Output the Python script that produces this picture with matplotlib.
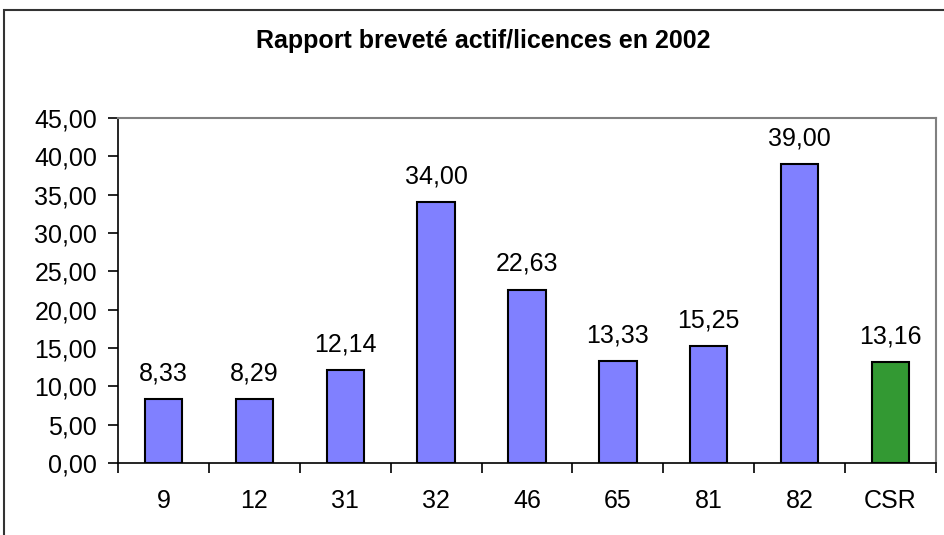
import numpy as np
import matplotlib.pyplot as plt
from matplotlib.patches import Rectangle

# Chart data
categories = ['9', '12', '31', '32', '46', '65', '81', '82', 'CSR']
values = [8.33, 8.29, 12.14, 34.00, 22.63, 13.33, 15.25, 39.00, 13.16]
colors = ['#8080FF'] * 8 + ['#339933']
y_ticks = [0, 5, 10, 15, 20, 25, 30, 35, 40, 45]

plt.rcParams['font.family'] = ['Liberation Sans', 'DejaVu Sans']

fig = plt.figure(figsize=(9.45, 5.35), dpi=100)
ax = fig.add_axes([118 / 945, 72 / 535, 818 / 945, 345 / 535])

# outer chart frame (cut off at right/bottom like the reference)
fig.patches.append(Rectangle((4 / 945, -0.1), 1.2, 1.1 - 10 / 535,
                             transform=fig.transFigure, fill=False,
                             edgecolor='#333333', linewidth=1.5))

x = np.arange(len(categories))
bars = ax.bar(x, values, width=0.41, color=colors, edgecolor='black', linewidth=1.5)

for xi, v in zip(x, values):
    ax.text(xi, v + 2.45, f'{v:.2f}'.replace('.', ','), ha='center', va='baseline', fontsize=18)

ax.set_xlim(-0.5, len(categories) - 0.5)
ax.set_ylim(0, 45)
ax.set_yticks(y_ticks)
ax.set_yticklabels([f'{t:.2f}'.replace('.', ',') for t in y_ticks], fontsize=18)

# category labels centred, ticks between categories
ax.set_xticks(x)
ax.set_xticklabels(categories, fontsize=18)
ax.tick_params(axis='x', length=0, pad=19)
ax.set_xticks(np.arange(-0.5, len(categories)), minor=True)
ax.tick_params(axis='x', which='minor', length=7, width=1.2, color='black')
ax.tick_params(axis='y', length=7, width=1.2, pad=8)

for side in ['top', 'right']:
    ax.spines[side].set_color('#808080')
    ax.spines[side].set_linewidth(1.5)
for side in ['left', 'bottom']:
    ax.spines[side].set_color('black')
    ax.spines[side].set_linewidth(1.2)

fig.text(483 / 945, 1 - 48 / 535, 'Rapport breveté actif/licences en 2002',
         ha='center', va='baseline', fontsize=18, fontweight='bold')

fig.savefig('out.png', dpi=100)
